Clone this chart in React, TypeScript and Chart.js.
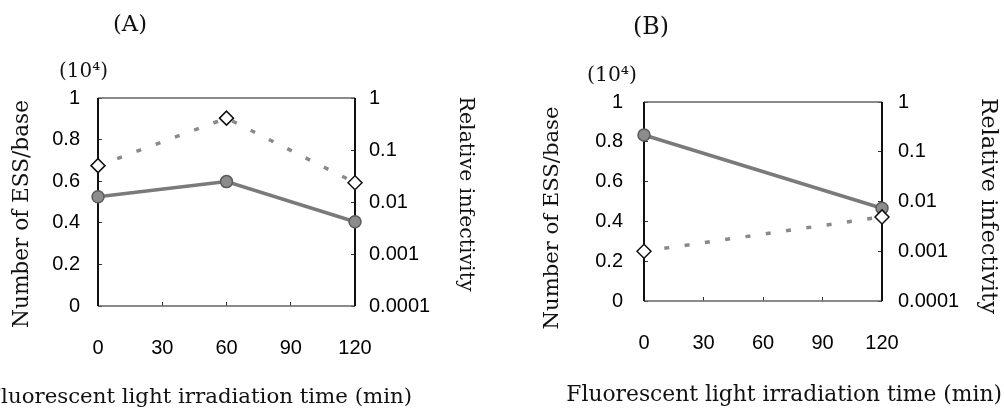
import React, { useEffect, useRef } from 'react';
import { Chart, registerables } from 'chart.js';

Chart.register(...registerables);

// ---------- data ----------
const timeA = [0, 60, 120];
const essA = [0.525, 0.598, 0.405];
const infectivityA = [0.05, 0.41, 0.0235];

const timeB = [0, 120];
const essB = [0.834, 0.466];
const infectivityB = [0.001, 0.0049];

const xTickValues = [0, 30, 60, 90, 120];
const xTickLabels = ['0', '30', '60', '90', '120'];
const essTickValues = [0, 0.2, 0.4, 0.6, 0.8, 1];
const essTickLabels = ['0', '0.2', '0.4', '0.6', '0.8', '1'];
const infTickValues = [0.0001, 0.001, 0.01, 0.1, 1];
const infTickLabels = ['0.0001', '0.001', '0.01', '0.1', '1'];

const panelLabels = ['(A)', '(B)'];
const unitLabel = '(10\u2074)';
const leftTitle = 'Number of ESS/base';
const rightTitle = 'Relative infectivity';
const xTitle = 'Fluorescent light irradiation time (min)';

// ---------- layout / style ----------
const CW = 502;
const CH = 412;
const SERIF = "'DejaVu Serif', 'Liberation Serif', serif";
const SANS = "'Liberation Sans', Arial, sans-serif";

type Layout = {
  left: number;
  plotL: number; plotR: number; plotT: number; plotB: number;
  yLPad: number; yRPad: number; xPad: number;
  label: [number, number, number];
  unit: [number, number, number];
  leftT: [number, number, number];
  rightT: [number, number, number];
  xT: [number, number, number];
};

const layouts: Layout[] = [
  {
    left: 0,
    plotL: 98, plotR: 355, plotT: 98, plotB: 306,
    yLPad: 22, yRPad: 18, xPad: 34,
    label: [130, 25, 34],
    unit: [59, 72, 49],
    leftT: [22, 214, 228],
    rightT: [465, 194, 195],
    xT: [412, 397, 426],
  },
  {
    left: 502,
    plotL: 142, plotR: 380, plotT: 102, plotB: 301,
    yLPad: 25, yRPad: 20, xPad: 34,
    label: [149, 28, 36],
    unit: [85, 76, 50],
    leftT: [51, 218, 223],
    rightT: [486, 206, 216],
    xT: [500, 395, 436],
  },
];

function fitSize(ctx: CanvasRenderingContext2D, text: string, family: string, target: number) {
  ctx.font = `100px ${family}`;
  const w = ctx.measureText(text).width;
  return (100 * target) / w;
}

function makeTextPlugin(idx: number) {
  const L = layouts[idx];
  return {
    id: 'panelText' + idx,
    afterDraw(chart: any) {
      const ctx: CanvasRenderingContext2D = chart.ctx;
      ctx.save();
      ctx.fillStyle = '#111';
      ctx.textBaseline = 'middle';

      let s = fitSize(ctx, panelLabels[idx], SERIF, L.label[2]);
      ctx.font = `${s}px ${SERIF}`;
      ctx.textAlign = 'center';
      ctx.fillText(panelLabels[idx], L.label[0], L.label[1]);

      s = fitSize(ctx, unitLabel, SERIF, L.unit[2]);
      ctx.font = `${s}px ${SERIF}`;
      ctx.textAlign = 'left';
      ctx.fillText(unitLabel, L.unit[0], L.unit[1]);

      s = fitSize(ctx, leftTitle, SERIF, L.leftT[2]);
      ctx.save();
      ctx.font = `${s}px ${SERIF}`;
      ctx.translate(L.leftT[0], L.leftT[1]);
      ctx.rotate(-Math.PI / 2);
      ctx.textAlign = 'center';
      ctx.fillText(leftTitle, 0, 0);
      ctx.restore();

      s = fitSize(ctx, rightTitle, SERIF, L.rightT[2]);
      ctx.save();
      ctx.font = `${s}px ${SERIF}`;
      ctx.translate(L.rightT[0], L.rightT[1]);
      ctx.rotate(Math.PI / 2);
      ctx.textAlign = 'center';
      ctx.fillText(rightTitle, 0, 0);
      ctx.restore();

      s = fitSize(ctx, xTitle, SERIF, L.xT[2]);
      ctx.font = `${s}px ${SERIF}`;
      ctx.textAlign = 'right';
      ctx.fillText(xTitle, L.xT[0], L.xT[1]);

      ctx.restore();
    },
  };
}

const framePlugin = {
  id: 'frame',
  beforeDatasetsDraw(chart: any) {
    const { ctx, chartArea: a } = chart;
    ctx.save();
    ctx.strokeStyle = '#666';
    ctx.lineWidth = 1.5;
    ctx.beginPath();
    ctx.moveTo(a.left, a.top);
    ctx.lineTo(a.right, a.top);
    ctx.moveTo(a.left, a.bottom);
    ctx.lineTo(a.right, a.bottom);
    ctx.stroke();
    ctx.strokeStyle = '#111';
    ctx.lineWidth = 2;
    ctx.beginPath();
    ctx.moveTo(a.left, a.top);
    ctx.lineTo(a.left, a.bottom);
    ctx.moveTo(a.right, a.top);
    ctx.lineTo(a.right, a.bottom);
    ctx.stroke();
    ctx.restore();
  },
};

function indexLabel(values: number[], labels: string[], v: number) {
  const i = values.findIndex((t) => Math.abs(t - v) <= 1e-6 * Math.max(Math.abs(t), 1e-12));
  return i >= 0 ? labels[i] : '';
}

function buildChart(canvas: HTMLCanvasElement, idx: number, times: number[], ess: number[], inf: number[]) {
  const L = layouts[idx];
  const tickFont = { family: SANS, size: 20 };
  const gridTicks = { display: true, drawOnChartArea: false, drawTicks: true, tickLength: -4, color: '#333', lineWidth: 1 };
  return new Chart(canvas, {
    type: 'line',
    data: {
      datasets: [
        {
          label: rightTitle,
          data: times.map((t, i) => ({ x: t, y: inf[i] })),
          yAxisID: 'yR',
          borderColor: '#8a8a8a',
          borderWidth: 3.5,
          borderDash: [5, 15.5],
          pointStyle: 'rectRot',
          pointRadius: 7,
          pointBackgroundColor: '#ffffff',
          pointBorderColor: '#111111',
          pointBorderWidth: 1.5,
          clip: false,
          order: 0,
        },
        {
          label: leftTitle,
          data: times.map((t, i) => ({ x: t, y: ess[i] })),
          yAxisID: 'yL',
          borderColor: '#7a7a7a',
          borderWidth: 3.5,
          pointStyle: 'circle',
          pointRadius: 6,
          pointBackgroundColor: '#8c8c8c',
          pointBorderColor: '#5a5a5a',
          pointBorderWidth: 1.5,
          clip: false,
          order: 1,
        },
      ],
    } as any,
    options: {
      animation: false,
      responsive: false,
      maintainAspectRatio: false,
      layout: { padding: { top: L.plotT, left: 0, right: 0, bottom: 0 } },
      plugins: { legend: { display: false }, tooltip: { enabled: false }, title: { display: false } },
      scales: {
        x: {
          type: 'linear',
          position: 'bottom',
          min: 0,
          max: 120,
          afterBuildTicks: (s: any) => { s.ticks = xTickValues.map((v) => ({ value: v })); },
          afterFit: (s: any) => { s.height = CH - L.plotB; },
          ticks: {
            font: tickFont, color: '#000', padding: L.xPad, maxRotation: 0, autoSkip: false,
            callback: (v: any) => indexLabel(xTickValues, xTickLabels, Number(v)),
          },
          grid: gridTicks,
          border: { display: false },
        },
        yL: {
          type: 'linear',
          position: 'left',
          min: 0,
          max: 1,
          afterBuildTicks: (s: any) => { s.ticks = essTickValues.map((v) => ({ value: v })); },
          afterFit: (s: any) => { s.width = L.plotL; },
          ticks: {
            font: tickFont, color: '#000', padding: L.yLPad, autoSkip: false,
            callback: (v: any) => indexLabel(essTickValues, essTickLabels, Number(v)),
          },
          grid: gridTicks,
          border: { display: false },
        },
        yR: {
          type: 'logarithmic',
          position: 'right',
          min: 0.0001,
          max: 1,
          afterBuildTicks: (s: any) => { s.ticks = infTickValues.map((v) => ({ value: v })); },
          afterFit: (s: any) => { s.width = CW - L.plotR; },
          ticks: {
            font: tickFont, color: '#000', padding: L.yRPad, autoSkip: false,
            callback: (v: any) => indexLabel(infTickValues, infTickLabels, Number(v)),
          },
          grid: gridTicks,
          border: { display: false },
        },
      },
    } as any,
    plugins: [framePlugin, makeTextPlugin(idx)],
  });
}

function Panel({ idx, times, ess, inf }: { idx: number; times: number[]; ess: number[]; inf: number[] }) {
  const ref = useRef<HTMLCanvasElement>(null);
  useEffect(() => {
    if (!ref.current) return;
    const chart = buildChart(ref.current, idx, times, ess, inf);
    return () => chart.destroy();
  }, [idx, times, ess, inf]);
  return (
    <canvas
      ref={ref}
      width={CW}
      height={CH}
      style={{ position: 'absolute', left: layouts[idx].left, top: 0, width: CW, height: CH, display: 'block' }}
    />
  );
}

export default function App() {
  return (
    <div style={{ position: 'fixed', left: 0, top: 0, width: 1004, height: 412, background: '#fff', overflow: 'hidden' }}>
      <Panel idx={0} times={timeA} ess={essA} inf={infectivityA} />
      <Panel idx={1} times={timeB} ess={essB} inf={infectivityB} />
    </div>
  );
}
